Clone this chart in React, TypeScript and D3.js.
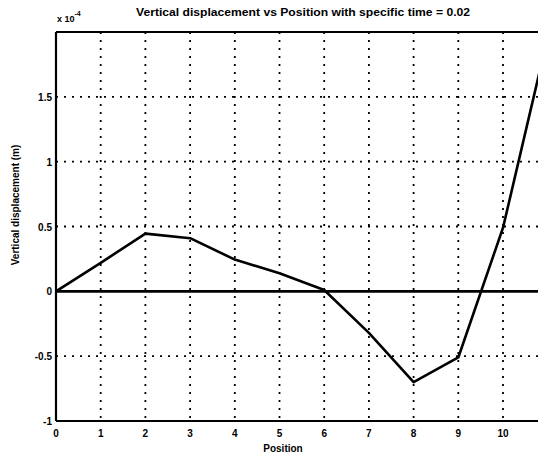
import React from "react";
import * as d3 from "d3";

// Vertical displacement (×10^-4 m) sampled at each position
const positions = [0, 1, 2, 3, 4, 5, 6, 7, 8, 9, 10, 11];
const displacement = [0, 0.22, 0.445, 0.41, 0.245, 0.14, 0.01, -0.32, -0.7, -0.51, 0.49, 1.96];

const xTicks = [0, 1, 2, 3, 4, 5, 6, 7, 8, 9, 10];
const yTicks = [-1, -0.5, 0, 0.5, 1, 1.5];
const yTickLabels = ["-1", "-0.5", "0", "0.5", "1", "1.5"];

const W = 538;
const H = 469;
const left = 56;
const top = 32;
const bottom = 421;

export default function App() {
  const x = d3.scaleLinear().domain([0, 10]).range([left, 503]);
  const y = d3.scaleLinear().domain([-1, 2]).range([bottom, top]);
  const xMax = 11;

  const line = d3
    .line<number>()
    .x((_, i) => x(positions[i]))
    .y((d) => y(d));

  const font = "'Liberation Sans', Arial, sans-serif";

  return (
    <svg
      width={W}
      height={H}
      style={{ position: "absolute", left: 0, top: 0, background: "#fff" }}
      fontFamily={font}
      fontWeight="bold"
    >
      <rect width={W} height={H} fill="#fff" />
      <defs>
        <clipPath id="plot">
          <rect x={left} y={top} width={x(xMax) - left} height={bottom - top} />
        </clipPath>
      </defs>

      {/* dotted grid */}
      <g stroke="#000" strokeWidth={1.8} strokeDasharray="2 6" fill="none">
        {xTicks
          .filter((t) => t > 0)
          .map((t) => (
            <line key={"gx" + t} x1={x(t)} x2={x(t)} y1={top} y2={bottom} />
          ))}
        {yTicks
          .filter((t) => t !== -1 && t !== 0)
          .map((t) => (
            <line key={"gy" + t} x1={left} x2={x(xMax)} y1={y(t)} y2={y(t)} />
          ))}
      </g>

      {/* zero reference line */}
      <line x1={left} x2={x(xMax)} y1={y(0)} y2={y(0)} stroke="#000" strokeWidth={2.6} />

      {/* displacement curve */}
      <path
        d={line(displacement) || ""}
        fill="none"
        stroke="#000"
        strokeWidth={2.6}
        strokeLinejoin="round"
        clipPath="url(#plot)"
      />

      {/* axes frame */}
      <g stroke="#000" strokeWidth={2.2} fill="none">
        <line x1={left} x2={left} y1={top} y2={bottom} />
        <line x1={left} x2={x(xMax)} y1={bottom} y2={bottom} />
        <line x1={left} x2={x(xMax)} y1={top} y2={top} />
      </g>

      {/* tick labels */}
      <g fontSize={10} fill="#000">
        {yTicks.map((t, i) => (
          <text key={"yl" + t} x={left - 4} y={y(t) + 4} textAnchor="end">
            {yTickLabels[i]}
          </text>
        ))}
        {xTicks.map((t) => (
          <text key={"xl" + t} x={x(t)} y={bottom + 16} textAnchor="middle">
            {t}
          </text>
        ))}
      </g>

      {/* exponent */}
      <text x={left + 1} y={22} fontSize={9} fill="#000">
        x 10
        <tspan dy={-6} fontSize={7}>
          -4
        </tspan>
      </text>

      {/* title and axis labels */}
      <text x={303} y={16} fontSize={10.5} textAnchor="middle" fill="#000" textLength={334} lengthAdjust="spacingAndGlyphs">
        Vertical displacement vs Position with specific time = 0.02
      </text>
      <text x={283} y={452} fontSize={10} textAnchor="middle" fill="#000">
        Position
      </text>
      <text
        transform={`translate(19, 205) rotate(-90)`}
        fontSize={10}
        textAnchor="middle"
        fill="#000"
      >
        Vertical displacement (m)
      </text>
    </svg>
  );
}
